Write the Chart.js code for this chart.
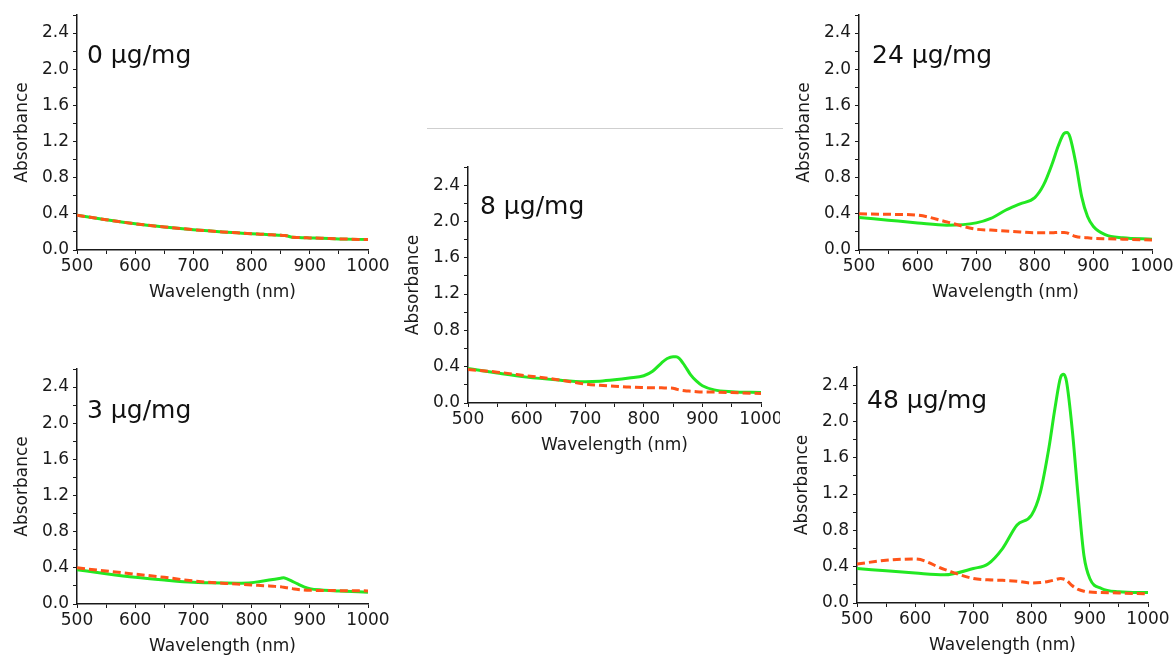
<!DOCTYPE html>
<html>
<head>
<meta charset="utf-8">
<script src="https://cdn.jsdelivr.net/npm/chart.js@4"></script>
<style>
  body { margin: 0; background: #fff; width: 1176px; height: 657px; overflow: hidden; position: relative; }
  canvas { position: absolute; }
  .rule { position: absolute; left: 427px; top: 128px; width: 356px; height: 1px; background: #cfcfcf; }
</style>
</head>
<body>
<div class="rule"></div>
<canvas id="c0"></canvas>
<canvas id="c3"></canvas>
<canvas id="c8"></canvas>
<canvas id="c24"></canvas>
<canvas id="c48"></canvas>
<script>
// wavelength grid (nm), denser near the 850 nm band
const wavelengths = [500, 550, 600, 650, 700, 725, 750, 775, 800, 815, 830, 840, 850, 855, 860, 870, 880, 890, 900, 920, 950, 1000];

const green0 = [0.385, 0.335, 0.29, 0.255, 0.225, 0.212, 0.2, 0.19, 0.18, 0.175, 0.17, 0.167, 0.163, 0.16, 0.157, 0.14, 0.138, 0.136, 0.134, 0.13, 0.123, 0.115];
const red0   = [0.385, 0.335, 0.29, 0.255, 0.225, 0.212, 0.2, 0.19, 0.18, 0.175, 0.17, 0.167, 0.163, 0.16, 0.157, 0.14, 0.138, 0.136, 0.134, 0.13, 0.123, 0.115];

const green3 = [0.38, 0.335, 0.295, 0.265, 0.24, 0.235, 0.232, 0.23, 0.235, 0.25, 0.265, 0.275, 0.285, 0.29, 0.28, 0.25, 0.22, 0.19, 0.17, 0.155, 0.145, 0.13];
const red3   = [0.40, 0.365, 0.33, 0.295, 0.255, 0.24, 0.23, 0.22, 0.21, 0.205, 0.2, 0.195, 0.19, 0.185, 0.18, 0.17, 0.16, 0.155, 0.152, 0.15, 0.148, 0.145];

const green8 = [0.38, 0.33, 0.285, 0.255, 0.235, 0.24, 0.255, 0.275, 0.30, 0.35, 0.44, 0.49, 0.51, 0.51, 0.495, 0.41, 0.31, 0.24, 0.19, 0.145, 0.125, 0.115];
const red8   = [0.37, 0.34, 0.30, 0.26, 0.21, 0.195, 0.185, 0.175, 0.17, 0.168, 0.167, 0.165, 0.163, 0.155, 0.145, 0.135, 0.13, 0.125, 0.122, 0.12, 0.115, 0.105];

const green24 = [0.36, 0.33, 0.30, 0.275, 0.30, 0.35, 0.44, 0.51, 0.58, 0.72, 0.96, 1.15, 1.29, 1.30, 1.25, 0.96, 0.59, 0.37, 0.26, 0.17, 0.135, 0.12];
const red24   = [0.40, 0.395, 0.385, 0.31, 0.23, 0.22, 0.21, 0.20, 0.19, 0.19, 0.19, 0.195, 0.195, 0.19, 0.175, 0.15, 0.14, 0.135, 0.13, 0.125, 0.12, 0.11];

const green48 = [0.38, 0.355, 0.33, 0.31, 0.38, 0.43, 0.60, 0.86, 0.97, 1.22, 1.72, 2.14, 2.49, 2.52, 2.44, 1.90, 1.17, 0.52, 0.27, 0.16, 0.125, 0.115];
const red48   = [0.43, 0.47, 0.485, 0.37, 0.27, 0.255, 0.25, 0.24, 0.22, 0.225, 0.24, 0.255, 0.27, 0.265, 0.25, 0.19, 0.15, 0.13, 0.12, 0.115, 0.11, 0.10];

const xTicks = { min: 500, max: 1000, step: 50 };
const yTicks = { min: 0, max: 2.6, step: 0.2 };

// where each plot area sits on the page
const panels = [
  { id: 'c0',  label: '0 μg/mg',  green: green0,  red: red0,  left: 77,  top: 15,  w: 291, h: 235, padTop: 15, padRight: 25, labelX: 10, labelY: 48 },
  { id: 'c3',  label: '3 μg/mg',  green: green3,  red: red3,  left: 77,  top: 369, w: 291, h: 235, padTop: 10, padRight: 25, labelX: 10, labelY: 49 },
  { id: 'c8',  label: '8 μg/mg',  green: green8,  red: red8,  left: 468, top: 167, w: 293, h: 236, padTop: 10, padRight: 19, labelX: 12, labelY: 47 },
  { id: 'c24', label: '24 μg/mg', green: green24, red: red24, left: 859, top: 15,  w: 293, h: 235, padTop: 15, padRight: 24, labelX: 13, labelY: 48 },
  { id: 'c48', label: '48 μg/mg', green: green48, red: red48, left: 857, top: 367, w: 291, h: 236, padTop: 10, padRight: 28, labelX: 10, labelY: 41 }
];

const Y_AXIS_W = 77;
const X_AXIS_H = 57;
const FONT = "'DejaVu Sans', Arial, sans-serif";
const INK = '#1a1a1a';

const panelLabel = {
  id: 'panelLabel',
  afterDraw(chart, args, opts) {
    const { ctx, chartArea } = chart;
    ctx.save();
    ctx.font = '25px ' + FONT;
    ctx.fillStyle = '#111';
    ctx.textBaseline = 'alphabetic';
    ctx.fillText(opts.text, chartArea.left + opts.dx, chartArea.top + opts.dy);
    ctx.restore();
  }
};

function toPoints(values) {
  return wavelengths.map((x, i) => ({ x: x, y: values[i] }));
}

panels.forEach(p => {
  const canvas = document.getElementById(p.id);
  canvas.width = Y_AXIS_W + p.w + p.padRight;
  canvas.height = p.padTop + p.h + X_AXIS_H;
  canvas.style.left = (p.left - Y_AXIS_W) + 'px';
  canvas.style.top = (p.top - p.padTop) + 'px';

  new Chart(canvas.getContext('2d'), {
    type: 'line',
    data: {
      datasets: [
        {
          data: toPoints(p.green),
          borderColor: '#22e822',
          borderWidth: 3,
          pointRadius: 0,
          cubicInterpolationMode: 'monotone',
          order: 1
        },
        {
          data: toPoints(p.red),
          borderColor: '#ff5419',
          borderWidth: 3,
          borderDash: [8, 4],
          pointRadius: 0,
          cubicInterpolationMode: 'monotone',
          order: 0
        }
      ]
    },
    options: {
      responsive: false,
      devicePixelRatio: 1,
      animation: false,
      events: [],
      layout: { padding: { top: p.padTop, right: p.padRight, left: 0, bottom: 0 } },
      plugins: {
        legend: { display: false },
        tooltip: { enabled: false },
        panelLabel: { text: p.label, dx: p.labelX, dy: p.labelY }
      },
      scales: {
        x: {
          type: 'linear',
          min: xTicks.min,
          max: xTicks.max,
          afterFit(scale) {
            scale.height = X_AXIS_H;
            scale.paddingLeft = 0;
            scale.paddingRight = 0;
          },
          border: { display: true, color: INK, width: 1.5 },
          grid: { display: true, drawOnChartArea: false, drawTicks: true, tickLength: 4, color: INK, tickColor: INK },
          ticks: {
            stepSize: xTicks.step,
            autoSkip: false,
            maxRotation: 0,
            padding: 2,
            color: INK,
            font: { family: FONT, size: 17 },
            callback: v => (v % 100 === 0 ? v : '')
          },
          title: {
            display: true,
            text: 'Wavelength (nm)',
            color: INK,
            font: { family: FONT, size: 17 },
            padding: { top: 0, bottom: 4 }
          }
        },
        y: {
          min: yTicks.min,
          max: yTicks.max,
          afterFit(scale) {
            scale.width = Y_AXIS_W;
            scale.paddingTop = 0;
            scale.paddingBottom = 0;
          },
          border: { display: true, color: INK, width: 1.5 },
          grid: { display: true, drawOnChartArea: false, drawTicks: true, tickLength: 4, color: INK, tickColor: INK },
          ticks: {
            stepSize: yTicks.step,
            autoSkip: false,
            padding: 4,
            color: INK,
            font: { family: FONT, size: 17 },
            callback: v => (Math.round(v * 5) % 2 === 0 ? v.toFixed(1) : '')
          },
          title: {
            display: true,
            text: 'Absorbance',
            color: INK,
            font: { family: FONT, size: 17 },
            padding: { top: 12, bottom: 0 }
          }
        }
      }
    },
    plugins: [panelLabel]
  });
});
</script>
</body>
</html>
